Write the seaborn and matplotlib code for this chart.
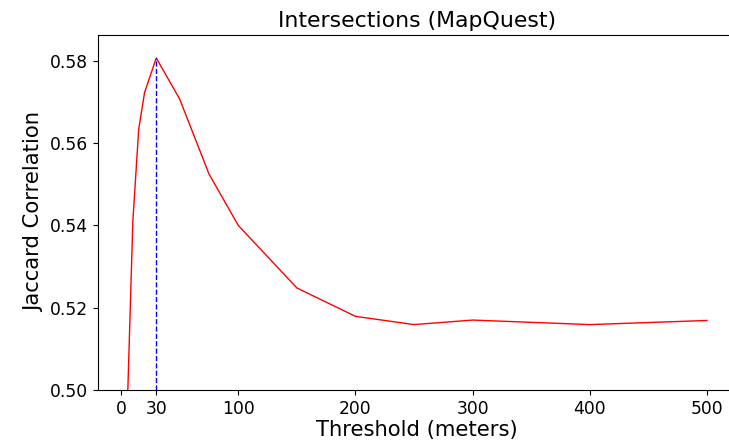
import matplotlib
matplotlib.use("Agg")
import matplotlib.pyplot as plt
import pandas as pd
import seaborn as sns

# threshold (meters) vs jaccard correlation
thresholds = [5, 10, 15, 20, 30, 50, 75, 100, 150, 200, 250, 300, 400, 500]
jaccard = [0.493, 0.541, 0.5634, 0.5723, 0.5807, 0.5707, 0.5525, 0.5400,
           0.5248, 0.5179, 0.5159, 0.5170, 0.5159, 0.5169]
x_ticks = [0, 30, 100, 200, 300, 400, 500]

df = pd.DataFrame({"threshold": thresholds, "jaccard": jaccard})
best = df.loc[df["jaccard"].idxmax()]

plt.rcParams["font.family"] = ["DejaVu Sans"]

fig = plt.figure(figsize=(7.29, 4.45), dpi=100)
ax = fig.add_axes([0.134, 0.1236, 0.8756, 0.7978])

sns.lineplot(data=df, x="threshold", y="jaccard", color="red", linewidth=1, ax=ax)
ax.vlines(best["threshold"], 0.5, best["jaccard"], colors="blue",
          linestyles="--", linewidth=1)

ax.set_xlim(-20, 524.75)
ax.set_ylim(0.5, 0.5863)
ax.set_xticks(x_ticks)
ax.set_yticks([0.50, 0.52, 0.54, 0.56, 0.58])
ax.tick_params(labelsize=12.3)
ax.set_title("Intersections (MapQuest)", fontsize=15.8)
ax.set_xlabel("Threshold (meters)", fontsize=15.2, labelpad=2)
ax.set_ylabel("Jaccard Correlation", fontsize=15.2)

fig.savefig("out.png", dpi=100)
